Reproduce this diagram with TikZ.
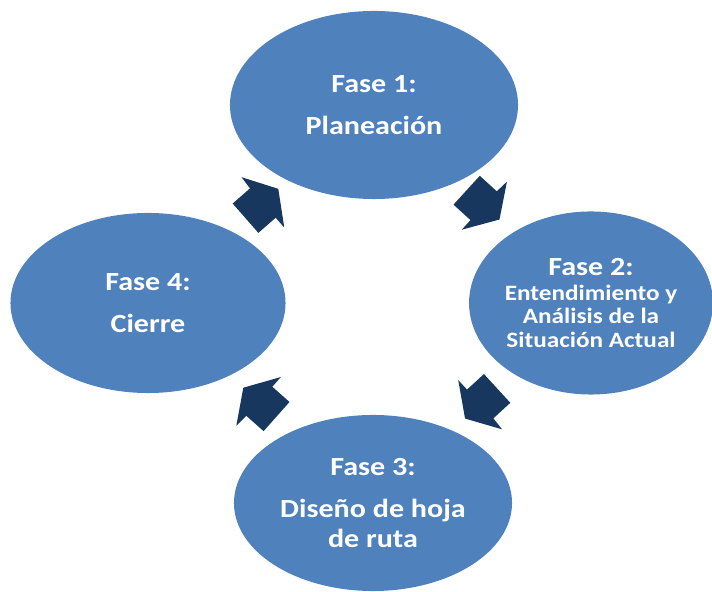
\documentclass[tikz,border=0pt]{standalone}
\usepackage{fontspec}
\setmainfont{Carlito}[FakeStretch=1.15]
\usetikzlibrary{shapes.geometric}

\definecolor{fasecolor}{HTML}{4F81BD}
\definecolor{flechacolor}{HTML}{17375E}

\tikzset{flecha/.pic = {\fill[flechacolor] (-21,-20) -- (-21,19) -- (2,19) -- (3,33) -- (23,0) -- (2,-33) -- (2,-20) -- cycle;}}

\begin{document}
\begin{tikzpicture}
	[x=0.025cm, y=0.025cm, main/.style = {ellipse, fill=fasecolor, text=white, inner sep=0pt, align=center, font=\bfseries\fontsize{18.6}{21}\selectfont}]
	\useasboundingbox (0,0) rectangle (712,592);
	\node[main, minimum width=7.2cm, minimum height=4.7cm] (1) at (374,487) {Fase 1:\\[9pt]Planeación};
	\node[main, minimum width=6.05cm, minimum height=4.575cm, font=\bfseries\fontsize{15.6}{16.7}\selectfont] (2) at (591,289) {{\fontsize{18.6}{21}\selectfont Fase 2:}\\[1pt]Entendimiento y\\Análisis de la\\Situación Actual};
	\node[main, minimum width=6.95cm, minimum height=4.4cm] (3) at (373,89) {Fase 3:\\[9pt]Diseño de hoja\\de ruta};
	\node[main, minimum width=6.875cm, minimum height=4.5cm] (4) at (148,289) {Fase 4:\\[9pt]Cierre};
	\path (1.center) -- (2.center) pic[pos=0.5, sloped, allow upside down] {flecha};
	\path (2.center) -- (3.center) pic[pos=0.5, sloped, allow upside down] {flecha};
	\path (3.center) -- (4.center) pic[pos=0.5, sloped, allow upside down] {flecha};
	\path (4.center) -- (1.center) pic[pos=0.5, sloped, allow upside down] {flecha};
\end{tikzpicture}
\end{document}
